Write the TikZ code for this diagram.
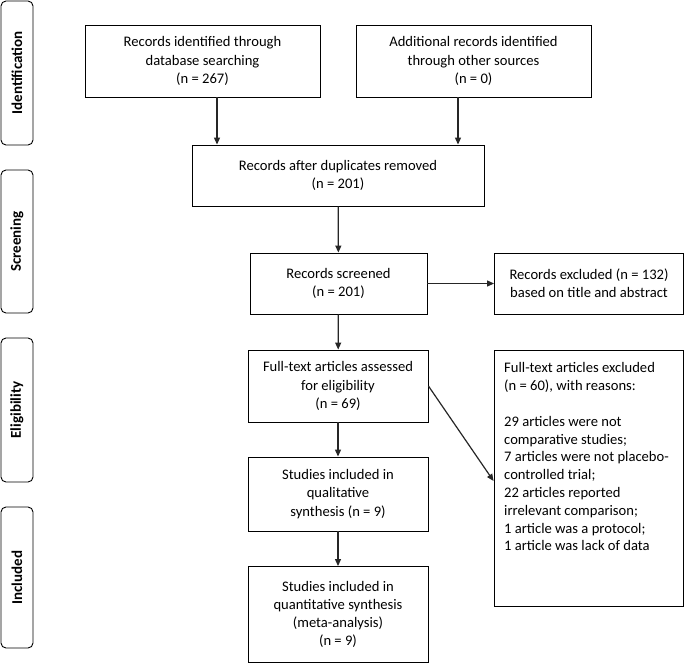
\documentclass[tikz,border=0pt]{standalone}
\usepackage{fontspec}
\setmainfont{Carlito}
\usetikzlibrary{arrows.meta}
\begin{document}
\begin{tikzpicture}[x=1pt,y=-1pt,
  box/.style={draw=black,line width=0.9pt,fill=white,align=center,inner sep=2pt,
    font=\fontsize{14.6}{18.2}\selectfont},
  side/.style={draw=black,line width=0.9pt,rounded corners=5pt,minimum width=32pt,
    font=\fontsize{15}{17}\selectfont\bfseries},
  arr/.style={draw=black!85,line width=1.2pt,-{Triangle[length=7pt,width=6pt]}}]
\path[use as bounding box] (0,0) rectangle (685,664);
% side labels
\node[side,minimum height=144pt] (sid) at (17,73) {\rotatebox{90}{Identification}};
\node[side,minimum height=143pt] (ssc) at (17,241.5) {\rotatebox{90}{Screening}};
\node[side,minimum height=144pt] (sel) at (17,410) {\rotatebox{90}{Eligibility}};
\node[side,minimum height=141pt] (sin) at (17,577.5) {\rotatebox{90}{Included}};
% boxes
\node[box,minimum width=235pt,minimum height=72pt] (a) at (202.5,61)
  {Records identified through\\database searching\\(n = 267)};
\node[box,minimum width=235pt,minimum height=72pt] (b) at (473.5,61)
  {Additional records identified\\through other sources\\(n = 0)};
\node[box,minimum width=292pt,minimum height=61pt] (c) at (338,175.5)
  {Records after duplicates removed\\(n = 201)};
\node[box,minimum width=177pt,minimum height=61pt] (s) at (338.5,283.5)
  {Records screened\\(n = 201)};
\node[box,minimum width=189pt,minimum height=61pt] (x) at (589,283.5)
  {Records excluded (n = 132)\\based on title and abstract};
\node[box,minimum width=180pt,minimum height=72pt] (f) at (338,386)
  {Full-text articles assessed\\for eligibility\\(n = 69)};
\node[box,minimum width=189pt,minimum height=256pt] (fe) at (588.5,478) {};
\node[anchor=north west,align=left,inner sep=0pt,
  font=\fontsize{14.6}{17.8}\selectfont] (fet) at (504,362.5)
  {Full-text articles excluded\\(n = 60), with reasons:\\[17.8pt]29 articles were not\\comparative studies;\\7 articles were not placebo-\\controlled trial;\\22 articles reported\\irrelevant comparison;\\1 article was a protocol;\\1 article was lack of data};
\node[box,minimum width=180pt,minimum height=74pt] (q) at (338,494)
  {Studies included in\\qualitative\\synthesis (n = 9)};
\node[box,minimum width=180pt,minimum height=96pt] (m) at (338,614.5)
  {Studies included in\\quantitative synthesis\\(meta-analysis)\\(n = 9)};
% connectors
\coordinate (ax) at (217,0);
\coordinate (bx) at (458,0);
\draw[arr] (a.south -| ax) -- (ax |- c.north);
\draw[arr] (b.south -| bx) -- (bx |- c.north);
\draw[arr] (c) -- (s);
\draw[arr] (s) -- (x);
\draw[arr] (s) -- (f);
\draw[arr] (f) -- (q);
\draw[arr] (q) -- (m);
\draw[arr] (f.east) -- ([yshift=-3pt]fe.west);
\end{tikzpicture}
\end{document}
